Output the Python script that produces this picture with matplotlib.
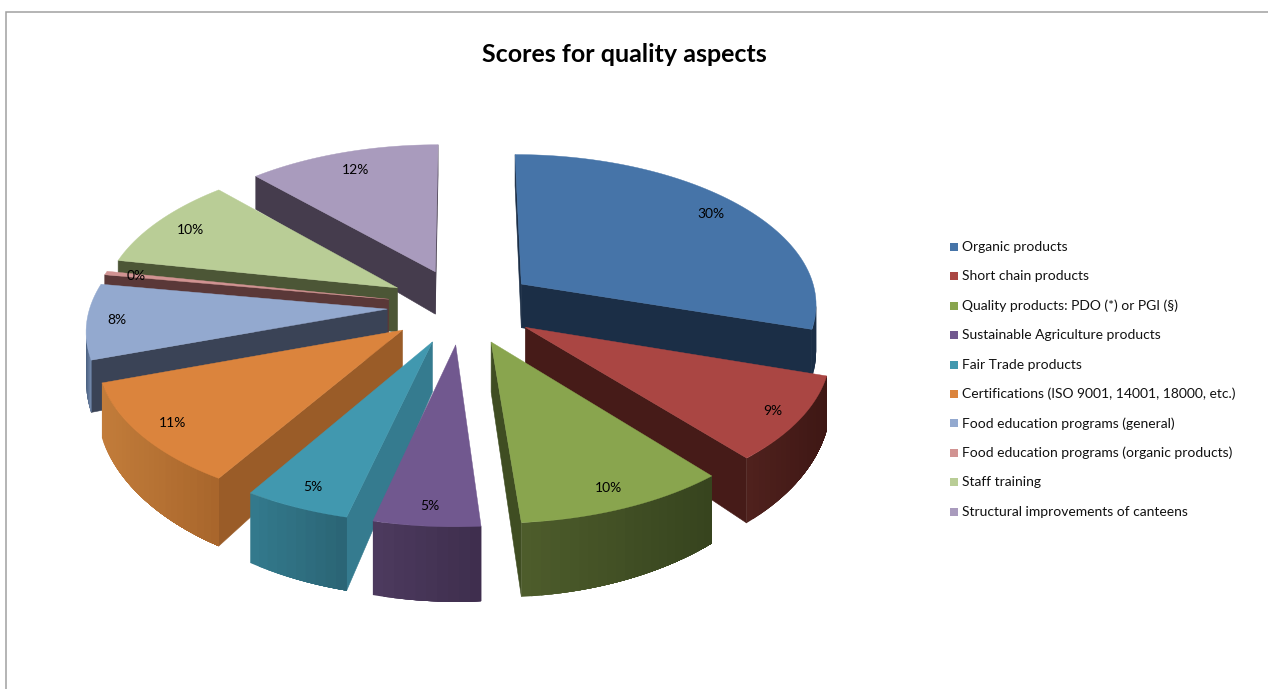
import numpy as np
import matplotlib
matplotlib.use("Agg")
import matplotlib.pyplot as plt
from matplotlib.patches import Polygon

title = "Scores for quality aspects"
labels = [
    "Organic products",
    "Short chain products",
    "Quality products: PDO (*) or PGI (§)",
    "Sustainable Agriculture products",
    "Fair Trade products",
    "Certifications (ISO 9001, 14001, 18000, etc.)",
    "Food education programs (general)",
    "Food education programs (organic products)",
    "Staff training",
    "Structural improvements of canteens",
]
values = [30, 9, 10, 5, 5, 11, 8, 0.4, 10, 12]
top_colors = ["#4674A8", "#AA4643", "#89A54E", "#71588F", "#4198AF",
              "#DB843D", "#93A9CF", "#D19392", "#B9CD96", "#A99BBD"]
side_colors = ["#1B2E46", "#461B18", "#3F4D22", "#463657", "#357B8F",
               "#9A5C28", "#3A4356", "#5A3838", "#4C5636", "#453C4D"]
outer_left = ["#1B2E46", "#4F211D", "#4D5C2B", "#4C3A5E", "#33798C",
              "#C27C3A", "#4A6080", "#5A3838", "#4C5636", "#453C4D"]
outer_right = ["#1B2E46", "#3E1714", "#36431E", "#3D2D4C", "#2A6373",
               "#A7652B", "#7F95B8", "#5A3838", "#4C5636", "#453C4D"]
# how far out along its slice each percentage sits
label_r = [0.87, 0.91, 0.89, 0.90, 0.89, 0.89, 0.90, 0.89, 0.86, 0.84]

# view of the pie, in pixels of the 1268x689 picture
CX, CY = 462, 306
RADIUS = 297
TILT = 0.505
PERSP = 0.12
DEPTH = 46
EXPLODE = 0.252


def project(angle, r, mid, z=0.0):
    x = EXPLODE * np.sin(mid) + r * np.sin(angle)
    y = -(EXPLODE * np.cos(mid) + r * np.cos(angle))
    s = 1 / (1 - PERSP * y)
    return CX + RADIUS * x * s, CY + RADIUS * TILT * y * s + DEPTH * z * s ** 3


def area(pts):
    pts = np.array(pts)
    xs, ys = pts[:, 0], pts[:, 1]
    return np.sum(xs * np.roll(ys, -1) - np.roll(xs, -1) * ys)


def mix(c1, c2, t):
    c1 = np.array(matplotlib.colors.to_rgb(c1))
    c2 = np.array(matplotlib.colors.to_rgb(c2))
    return tuple(c1 + (c2 - c1) * t)


plt.rcParams["font.family"] = ["Lato", "DejaVu Sans"]
fig = plt.figure(figsize=(12.68, 6.89), dpi=100)
ax = fig.add_axes([0, 0, 1, 1])
ax.set_xlim(0, 1268)
ax.set_ylim(689, 0)
ax.axis("off")

ax.plot([6, 6, 1268], [689, 12, 12], color="#A0A0A0", lw=1.1, solid_joinstyle="miter")

shares = np.array(values) / np.sum(values) * 2 * np.pi
ends = np.cumsum(shares)
starts = ends - shares
mids = (starts + ends) / 2

# far slices first
order = np.argsort(np.cos(mids) * -1)
for i in order:
    a0, a1, mid = starts[i], ends[i], mids[i]
    arc = np.linspace(a0, a1, max(int(np.degrees(a1 - a0) / 1.5), 2))

    # radial walls
    wall0 = [project(a0, 0, mid), project(a0, 1, mid), project(a0, 1, mid, 1), project(a0, 0, mid, 1)]
    wall1 = [project(a1, 0, mid), project(a1, 1, mid), project(a1, 1, mid, 1), project(a1, 0, mid, 1)]
    if area(wall0) < 0:
        ax.add_patch(Polygon(wall0, fc=side_colors[i], ec=side_colors[i], lw=0.4))
    if area(wall1) > 0:
        ax.add_patch(Polygon(wall1, fc=side_colors[i], ec=side_colors[i], lw=0.4))

    # outer wall, painted from the widest strip down so no seams show
    seen = []
    for b0, b1 in zip(arc[:-1], arc[1:]):
        q = [project(b0, 1, mid), project(b1, 1, mid), project(b1, 1, mid, 1), project(b0, 1, mid, 1)]
        if area(q) < 0:
            seen.extend([b0, b1])
    if seen:
        seen = np.unique(seen)
        xs = [project(b, 1, mid)[0] for b in seen]
        lo, hi = min(xs), max(xs)
        for k in range(len(seen) - 1, 0, -1):
            part = seen[:k + 1]
            poly = [project(b, 1, mid) for b in part] + [project(b, 1, mid, 1) for b in part[::-1]]
            t = (project(part[-1], 1, mid)[0] - lo) / (hi - lo)
            ax.add_patch(Polygon(poly, fc=mix(outer_left[i], outer_right[i], t), ec="none"))

    # top face
    top = [project(a0, 0, mid)] + [project(b, 1, mid) for b in arc]
    ax.add_patch(Polygon(top, fc=top_colors[i], ec=top_colors[i], lw=0.3))

for i in order:
    lx, ly = project(mids[i], label_r[i], mids[i])
    ax.text(lx, ly, f"{round(values[i])}%", ha="center", va="center", fontsize=10, color="black", zorder=10)

ax.text(624, 55, title, ha="center", va="center", fontsize=18, fontweight="bold", color="black")

for i, lab in enumerate(labels):
    y = 247 + i * 29.4
    ax.scatter([953.5], [y], marker="s", s=26, color=top_colors[i], linewidths=0)
    ax.text(962, y, lab, ha="left", va="center", fontsize=10, color="#111111")

fig.savefig("out.png", dpi=100)
